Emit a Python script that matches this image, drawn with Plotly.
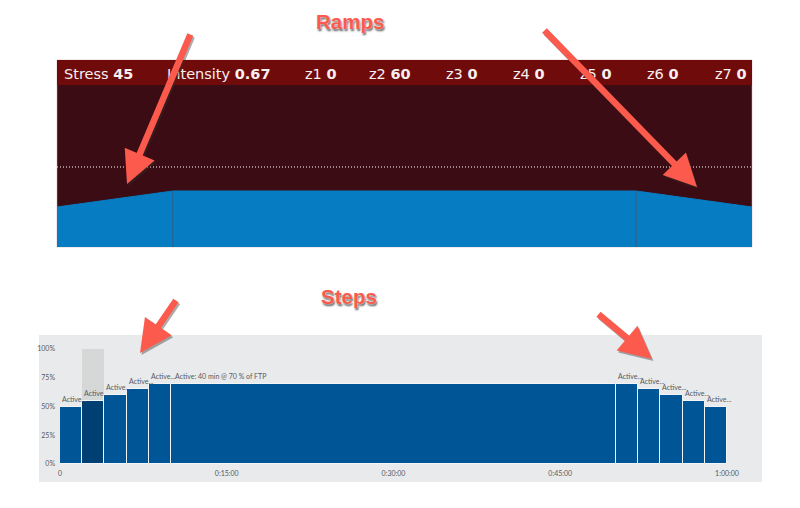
import plotly.graph_objects as go

W, H = 800, 508

# Ramps panel data
ramp_minutes = [0, 10, 50, 60]
ramp_power = [50, 70, 70, 50]
ramp_breaks = [10, 50]
ftp_line = 100
header_labels = ["Stress", "Intensity", "z1", "z2", "z3", "z4", "z5", "z6", "z7"]
header_values = ["45", "0.67", "0", "60", "0", "0", "0", "0", "0"]
header_left_px = [62, 165, 303, 367, 444, 511, 578, 645, 713]

# Steps panel data
step_start = [0, 2, 4, 6, 8, 10, 50, 52, 54, 56, 58]
step_length = [2, 2, 2, 2, 2, 40, 2, 2, 2, 2, 2]
step_power = [50, 55, 60, 65, 70, 70, 70, 65, 60, 55, 50]
step_labels = ["Active...", "Active...", "Active...", "Active...", "Active...",
               "Active: 40 min @ 70 % of FTP",
               "Active...", "Active...", "Active...", "Active...", "Active..."]
selected_step = 1
y_ticks = [0, 25, 50, 75, 100]
y_ticktext = ["0%", "25%", "50%", "75%", "100%"]
x_ticks = [0, 15, 30, 45, 60]
x_ticktext = ["0", "0:15:00", "0:30:00", "0:45:00", "1:00:00"]

# Callouts
titles = [("Ramps", 350, 21), ("Steps", 349, 296)]
arrows = [((191, 33), (127, 184)), ((543, 29), (697, 187)),
          ((177, 299), (140, 353)), ((597, 313), (652, 359))]

SMALL = "Lato, Liberation Sans, Arial, sans-serif"
px = lambda v: v / W
py = lambda v: 1 - v / H

fig = go.Figure()

fig.add_trace(go.Scatter(
    x=ramp_minutes, y=ramp_power, mode="lines", fill="tozeroy",
    fillcolor="#067dc3", line=dict(color="#067dc3", width=1),
    xaxis="x", yaxis="y", hoverinfo="skip", showlegend=False))

fig.add_trace(go.Bar(
    x=[step_start[selected_step]], y=[100], width=[step_length[selected_step]],
    offset=0, marker=dict(color="#d6d8d8", line=dict(width=0)),
    xaxis="x2", yaxis="y2", hoverinfo="skip", showlegend=False))

fig.add_trace(go.Bar(
    x=step_start, y=step_power, width=step_length, offset=0,
    marker=dict(
        color=["#003f72" if i == selected_step else "#005596" for i in range(len(step_start))],
        line=dict(color="#f2f5f8", width=1)),
    xaxis="x2", yaxis="y2", hoverinfo="skip", showlegend=False))

shapes = [
    dict(type="rect", xref="x domain", yref="y domain", x0=0, x1=1, y0=0, y1=1,
         fillcolor="#3b0c13", line=dict(color="#c9a5a5", width=0.5), layer="below"),
    dict(type="rect", xref="x domain", yref="paper", x0=0, x1=1, y0=py(85), y1=py(60),
         fillcolor="#700b0b", line=dict(width=0), layer="below"),
    dict(type="line", xref="x domain", yref="y", x0=0, x1=1, y0=ftp_line, y1=ftp_line,
         line=dict(color="#ffffff", width=1, dash="1px,2px"), layer="above"),
    dict(type="rect", xref="paper", yref="paper", x0=px(39), x1=px(762), y0=py(482), y1=py(335),
         fillcolor="#e9eaec", line=dict(width=0), layer="below"),
]
for b in ramp_breaks:
    shapes.append(dict(type="line", xref="x", yref="y", x0=b, x1=b, y0=0, y1=70,
                       line=dict(color="#2f5f86", width=1), layer="above"))

annotations = []
for start, power, label in zip(step_start, step_power, step_labels):
    annotations.append(dict(
        xref="x2", yref="y2", x=start, y=power, xanchor="left", yanchor="bottom",
        text=label, showarrow=False, yshift=2, xshift=2 if len(label) > 10 else 0,
        font=dict(family=SMALL, size=7, color="#555a60")))

for label, value, left in zip(header_labels, header_values, header_left_px):
    annotations.append(dict(
        xref="paper", yref="paper", x=px(left), y=py(74), xanchor="left", yanchor="middle",
        text=f"{label} <b>{value}</b>", showarrow=False,
        font=dict(family="DejaVu Sans, Verdana, sans-serif", size=14.5, color="#f6f0f0")))

for label, cx, cy in titles:
    annotations.append(dict(
        xref="paper", yref="paper", x=px(cx), y=py(cy), xanchor="center", yanchor="middle",
        text=f"<b>{label}</b>", showarrow=False,
        font=dict(family="Liberation Sans, Arial, sans-serif", size=20.5, color="#fb5a4c",
                  shadow="0px 0px 2px #ffffff, 1px 2px 2px #555555")))

for (tail, head) in arrows:
    for dx, dy, color in [(1.5, 2, "rgba(50,50,50,0.4)"), (0, 0, "#fb5a4c")]:
        annotations.append(dict(
            xref="paper", yref="paper", x=px(head[0] + dx), y=py(head[1] + dy),
            axref="pixel", ayref="pixel", ax=tail[0] - head[0], ay=tail[1] - head[1],
            text="", showarrow=True, arrowhead=2, arrowsize=1.0, arrowwidth=6.5,
            arrowcolor=color, standoff=0))

fig.update_layout(
    width=W, height=H, margin=dict(l=0, r=0, t=0, b=0, autoexpand=False),
    paper_bgcolor="white", plot_bgcolor="rgba(0,0,0,0)",
    barmode="overlay", bargap=0, showlegend=False,
    shapes=shapes, annotations=annotations,
    xaxis=dict(domain=[px(57), px(752)], range=[0, 60], visible=False, fixedrange=True),
    yaxis=dict(domain=[py(247), py(60)], range=[0, 233.75], visible=False, fixedrange=True),
    xaxis2=dict(domain=[px(60), px(727)], range=[0, 60], anchor="y2",
                tickvals=x_ticks, ticktext=x_ticktext, showgrid=False, zeroline=False,
                showline=False, ticks="", fixedrange=True, ticklabelstandoff=4,
                tickfont=dict(family=SMALL, size=7, color="#555a60")),
    yaxis2=dict(domain=[py(464), py(349)], range=[0, 100], anchor="x2",
                tickvals=y_ticks, ticktext=y_ticktext, showgrid=False, zeroline=False,
                showline=False, ticks="", fixedrange=True, ticklabelstandoff=4,
                tickfont=dict(family=SMALL, size=7, color="#555a60")),
)

fig.write_html("out.html", config=dict(displayModeBar=False),
               post_script="document.body.style.margin='0';document.documentElement.style.overflow='hidden';")
